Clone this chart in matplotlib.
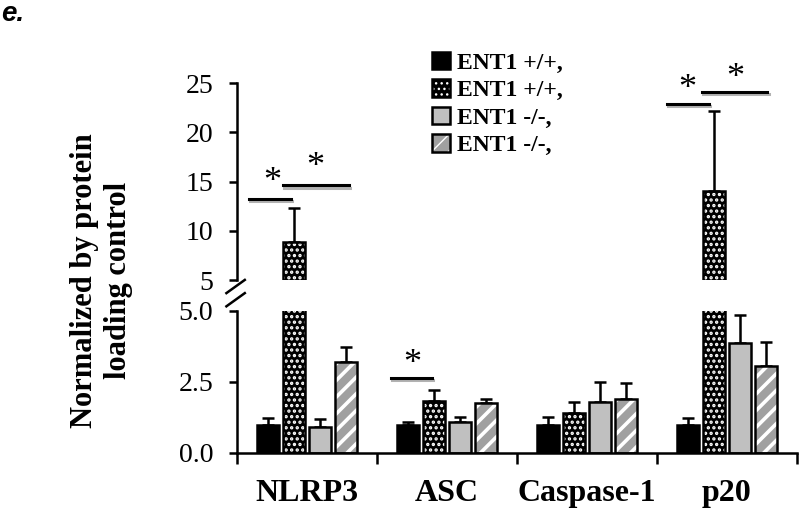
import numpy as np
import matplotlib
matplotlib.use('Agg')
import matplotlib.pyplot as plt
import matplotlib.patheffects as pe
from matplotlib.patches import Patch
from matplotlib.lines import Line2D
from matplotlib.legend_handler import HandlerTuple

plt.rcParams['font.family'] = 'Liberation Serif'
plt.rcParams['hatch.color'] = 'white'

# data
categories = ['NLRP3', 'ASC', 'Caspase-1', 'p20']
labels = ['ENT1 +/+,', 'ENT1 +/+,', 'ENT1 -/-,', 'ENT1 -/-,']
wt_ctrl = [1.0, 1.0, 1.0, 1.0]
wt_ctrl_err = [0.22, 0.1, 0.28, 0.23]
wt_treat = [8.9, 1.83, 1.41, 14.0]
wt_treat_err = [3.4, 0.38, 0.4, 8.2]
ko_ctrl = [0.93, 1.08, 1.8, 3.87]
ko_ctrl_err = [0.27, 0.18, 0.7, 0.98]
ko_treat = [3.2, 1.76, 1.9, 3.06]
ko_treat_err = [0.52, 0.14, 0.56, 0.85]

# significance bars: (x start, x end, y, star x, star y)
sig_top = [(-0.414, -0.114, 13.2, -0.25, 14.9),
           (-0.171, 0.30, 14.6, 0.064, 16.4),
           (2.57, 2.87, 22.85, 2.72, 24.3),
           (2.82, 3.29, 24.07, 3.06, 25.5)]
sig_bot = [(0.60, 0.893, 2.64, 0.75, 3.1)]

series = [wt_ctrl, wt_treat, ko_ctrl, ko_treat]
errs = [wt_ctrl_err, wt_treat_err, ko_ctrl_err, ko_treat_err]
faces = ['black', 'black', '#c0c0c0', '#a0a0a0']
hatches = [None, '...', None, '//']
hatch_lw = [1.0, 1.6, 1.0, 2.6]
offsets = [-0.28, -0.093, 0.093, 0.28]
width = 0.158

fig = plt.figure(figsize=(8, 5.08), dpi=100)
ax_top = fig.add_axes([0.296, 0.4488, 0.70, 0.3878])
ax_bot = fig.add_axes([0.296, 0.1083, 0.70, 0.2795])

x = np.arange(len(categories))
for ax, lo, hi in ((ax_top, 5, 25), (ax_bot, 0, 5)):
    for i in range(4):
        xs = x + offsets[i]
        with plt.rc_context({'hatch.linewidth': hatch_lw[i]}):
            ax.bar(xs, series[i], width, color=faces[i], hatch=hatches[i],
                   linewidth=0, zorder=2)
        ax.bar(xs, series[i], width, fill=False, edgecolor='black',
               linewidth=1.8, zorder=3)
        vals = np.array(series[i])
        keep = (vals > lo) & (vals <= hi)
        ax.errorbar(xs[keep], vals[keep],
                    yerr=[np.zeros(keep.sum()), np.array(errs[i])[keep]],
                    fmt='none', ecolor='black', elinewidth=1.8, capsize=4,
                    capthick=1.8, zorder=1)

handles = []
for i in range(4):
    with plt.rc_context({'hatch.linewidth': hatch_lw[i]}):
        h1 = Patch(facecolor=faces[i], hatch=hatches[i], linewidth=0)
    h2 = Patch(fill=False, edgecolor='black', linewidth=1.8)
    handles.append((h1, h2))

shadow = [pe.SimpleLineShadow(offset=(1, -1.5), shadow_color='gray', alpha=0.6),
          pe.Normal()]
for x0, x1, y, sx, sy in sig_top:
    ax_top.plot([x0, x1], [y, y], color='black', lw=2.2, clip_on=False,
                path_effects=shadow)
    ax_top.text(sx, sy, '*', ha='center', va='center', fontsize=26,
                clip_on=False)
for x0, x1, y, sx, sy in sig_bot:
    ax_bot.plot([x0, x1], [y, y], color='black', lw=2.2, clip_on=False,
                path_effects=shadow)
    ax_bot.text(sx, sy, '*', ha='center', va='center', fontsize=26)

for ax in (ax_top, ax_bot):
    ax.set_xlim(-0.5, 3.5)
    for s in ['top', 'right']:
        ax.spines[s].set_visible(False)
    ax.spines['left'].set_linewidth(1.8)
    ax.spines['bottom'].set_linewidth(1.8)
    ax.tick_params(axis='y', direction='out', length=6, width=1.8,
                   labelsize=20, pad=11)

ax_top.set_ylim(5, 25)
ax_top.set_yticks([5, 10, 15, 20, 25])
ax_top.spines['bottom'].set_visible(False)
ax_top.set_xticks([])

ax_bot.set_ylim(0, 5)
ax_bot.set_yticks([0, 2.5, 5.0])
ax_bot.set_yticklabels(['0.0', '2.5', '5.0'])
ax_bot.set_xticks([-0.5, 0.5, 1.5, 2.5, 3.5])
ax_bot.set_xticklabels([])
ax_bot.tick_params(axis='x', which='major', direction='out', length=8, width=1.8)
ax_bot.set_xticks(x, minor=True)
ax_bot.set_xticklabels(categories, minor=True, fontsize=23, fontweight='bold')
ax_bot.tick_params(axis='x', which='minor', length=0, pad=19)

# axis break marks
for dy in (0, 0.026):
    fig.add_artist(Line2D([0.283, 0.306], [0.423 - dy, 0.449 - dy],
                          transform=fig.transFigure, color='black', lw=1.8))

fig.text(0.127, 0.448, 'Normalized by protein\nloading control', rotation=90,
         ha='center', va='center', fontsize=22, fontweight='bold',
         linespacing=1.2)
fig.text(0.002, 0.958, 'e.', fontsize=20, fontweight='bold', style='italic',
         family='Liberation Sans', va='baseline')

fig.legend(handles, labels, handler_map={tuple: HandlerTuple(ndivide=1, pad=0)},
           loc='upper left', bbox_to_anchor=(0.54, 0.898), frameon=False,
           prop={'size': 17, 'weight': 'bold'}, handlelength=0.75,
           handleheight=0.75, handletextpad=0.3, labelspacing=0.24,
           borderaxespad=0, borderpad=0)

fig.savefig('out.png', dpi=100)
